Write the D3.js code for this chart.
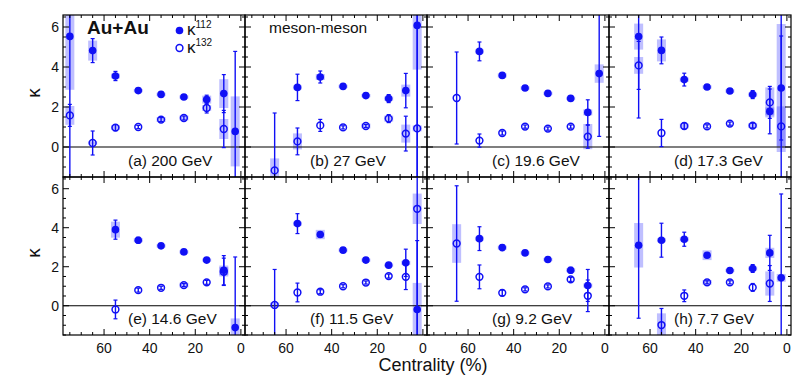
<!DOCTYPE html>
<html>
<head>
<meta charset="utf-8">
<title>kappa vs centrality</title>
<style>
body { margin: 0; background: #fff; }
text { font-family: "Liberation Sans", Arial, sans-serif; fill: #111; }
.frame { fill: none; stroke: #000; stroke-width: 1.2px; }
.tick { stroke: #000; stroke-width: 1px; }
.zero { stroke: #000; stroke-width: 1.2px; }
</style>
</head>
<body>
<svg id="chart" width="793" height="378"></svg>
<script src="https://cdnjs.cloudflare.com/ajax/libs/d3/7.8.5/d3.min.js"></script>
<script>
// centrality bins (%), same for all panels
var centBins = [75, 65, 55, 45, 35, 25, 15, 7.5, 2.5];
var panelLabels = ["(a) 200 GeV", "(b) 27 GeV", "(c) 19.6 GeV", "(d) 17.3 GeV",
                   "(e) 14.6 GeV", "(f) 11.5 GeV", "(g) 9.2 GeV", "(h) 7.7 GeV"];
var yTickLabels = [0, 2, 4, 6];
var xTickLabels = [60, 40, 20, 0];

// kappa112 (filled) : value, stat error, sys error, one row per panel
var k112 = [
  [5.53, 4.82, 3.55, 2.82, 2.63, 2.50, 2.37, 2.67, 0.78],
  [null, null, 2.98, 3.50, 3.03, 2.57, 2.42, 2.82, 6.08],
  [null, null, 4.78, 3.58, 2.95, 2.68, 2.43, 1.73, 3.67],
  [null, 5.52, 4.83, 3.37, 3.00, 2.80, 2.62, 1.78, 2.95],
  [null, null, 3.90, 3.36, 3.07, 2.76, 2.34, 1.82, -1.12],
  [null, null, 4.21, 3.65, 2.85, 2.34, 2.08, 2.20, -0.19],
  [null, null, 3.44, 2.98, 2.71, 2.37, 1.82, 1.04, null],
  [null, 3.10, 3.36, 3.41, 2.59, 1.81, 1.91, 2.71, 1.43]
];
var k112Stat = [
  [8, 0.60, 0.23, 0.10, 0.08, 0.08, 0.22, 0.95, 4.0],
  [null, null, 0.66, 0.30, 0.10, 0.10, 0.20, 0.86, 8],
  [null, null, 0.47, 0.12, 0.08, 0.08, 0.10, 0.63, 3.14],
  [null, 4.07, 0.67, 0.32, 0.10, 0.10, 0.20, 1.12, 2.6],
  [null, null, 0.49, 0.15, 0.08, 0.08, 0.10, 0.75, 3.62],
  [null, null, 0.51, 0.12, 0.08, 0.08, 0.12, 0.70, 3.53],
  [null, null, 0.61, 0.15, 0.08, 0.08, 0.15, 0.82, null],
  [null, 3.74, 0.87, 0.36, 0.10, 0.10, 0.20, 0.90, 4.3]
];
var k112Sys = [
  [2.67, 0.50, 0.12, 0.08, 0.08, 0.08, 0.20, 0.72, 1.75],
  [null, null, 0.10, 0.15, 0.08, 0.08, 0.10, 0.30, 2.21],
  [null, null, 0.10, 0.10, 0.08, 0.08, 0.08, 0.15, 0.46],
  [null, 0.65, 0.55, 0.10, 0.08, 0.08, 0.10, 0.20, 3.2],
  [null, null, 0.41, 0.10, 0.08, 0.08, 0.08, 0.24, 0.47],
  [null, null, 0.10, 0.24, 0.08, 0.08, 0.08, 0.10, 1.36],
  [null, null, 0.10, 0.10, 0.08, 0.08, 0.10, 0.10, null],
  [null, 1.14, 0.10, 0.10, 0.25, 0.08, 0.10, 0.26, 0.20]
];

// kappa132 (open)
var k132 = [
  [1.58, 0.20, 0.97, 1.00, 1.37, 1.45, 1.95, 0.90, null],
  [null, -1.17, 0.28, 1.08, 0.98, 1.05, 1.42, 0.67, 0.93],
  [null, 2.45, 0.32, 0.70, 1.02, 0.92, 1.02, 0.52, null],
  [null, 4.08, 0.70, 1.05, 1.03, 1.17, 1.07, 2.23, 1.03],
  [null, null, -0.19, 0.80, 0.92, 1.06, 1.20, 1.74, null],
  [null, 0.04, 0.68, 0.72, 1.00, 1.19, 1.52, 1.48, 4.97],
  [null, 3.19, 1.48, 0.66, 0.84, 0.99, 1.35, 0.51, null],
  [null, null, -0.99, 0.51, 1.20, 1.20, 0.94, 1.14, null]
];
var k132Stat = [
  [0.55, 0.60, 0.15, 0.08, 0.10, 0.10, 0.25, 0.93, null],
  [null, 2.87, 0.67, 0.30, 0.08, 0.08, 0.20, 0.87, 8],
  [null, 2.30, 0.33, 0.10, 0.08, 0.08, 0.08, 0.58, null],
  [null, 1.20, 0.68, 0.15, 0.08, 0.08, 0.12, 0.80, 6],
  [null, null, 0.48, 0.10, 0.08, 0.08, 0.10, 0.70, null],
  [null, 1.82, 0.48, 0.10, 0.08, 0.08, 0.10, 0.65, 8],
  [null, 2.96, 0.61, 0.15, 0.08, 0.08, 0.10, 0.81, null],
  [null, null, 0.85, 0.30, 0.08, 0.08, 0.20, 0.92, null]
];
var k132Sys = [
  [0.47, 0.08, 0.12, 0, 0.12, 0.12, 0.15, 0.50, null],
  [null, 0.60, 0.40, 0, 0, 0.12, 0.15, 0.45, 0.15],
  [null, 0, 0, 0, 0, 0, 0, 0.63, null],
  [null, 0.42, 0, 0.12, 0, 0, 0.12, 0.75, 1.0],
  [null, null, 0, 0, 0, 0.12, 0, 0.24, null],
  [null, 0.12, 0, 0, 0, 0, 0, 0, 0.78],
  [null, 0.99, 0, 0, 0, 0, 0, 0, null],
  [null, null, 0.60, 0, 0.12, 0, 0, 0.62, null]
];

var blue = "#1010f5";
var left = 63, panelW = 182;
var rows = [{top: 15, bottom: 177}, {top: 177, bottom: 335}];

var svg = d3.select("#chart");

var x = d3.scaleLinear().domain([78, -1.8]).range([0, panelW]);

function drawPanel(p) {
  var col = p % 4, row = Math.floor(p / 4);
  var x0 = left + col * panelW;
  var r = rows[row];
  var h = r.bottom - r.top;
  var y = d3.scaleLinear().domain([-1.5, 6.6]).range([h, 0]);

  var g = svg.append("g").attr("transform", "translate(" + x0 + "," + r.top + ")");

  g.append("clipPath").attr("id", "clip" + p)
    .append("rect").attr("width", panelW).attr("height", h);

  var plot = g.append("g").attr("clip-path", "url(#clip" + p + ")");

  var series = [
    {v: k112[p], st: k112Stat[p], sy: k112Sys[p], open: false},
    {v: k132[p], st: k132Stat[p], sy: k132Sys[p], open: true}
  ];

  // systematic boxes first
  series.forEach(function(s) {
    centBins.forEach(function(c, i) {
      if (s.v[i] == null || !s.sy[i]) return;
      plot.append("rect")
        .attr("x", x(c) - 4.5)
        .attr("width", 9)
        .attr("y", y(s.v[i] + s.sy[i]))
        .attr("height", y(s.v[i] - s.sy[i]) - y(s.v[i] + s.sy[i]))
        .attr("fill", "#2a2aff")
        .attr("fill-opacity", 0.3);
    });
  });

  plot.append("line").attr("class", "zero")
    .attr("x1", 0).attr("x2", panelW)
    .attr("y1", y(0)).attr("y2", y(0));

  // stat error bars
  series.forEach(function(s) {
    centBins.forEach(function(c, i) {
      if (s.v[i] == null) return;
      var cx = x(c), hi = y(s.v[i] + s.st[i]), lo = y(s.v[i] - s.st[i]);
      plot.append("line")
        .attr("x1", cx).attr("x2", cx).attr("y1", hi).attr("y2", lo)
        .attr("stroke", blue).attr("stroke-width", 1.4);
      [hi, lo].forEach(function(yy) {
        plot.append("line")
          .attr("x1", cx - 2).attr("x2", cx + 2).attr("y1", yy).attr("y2", yy)
          .attr("stroke", blue).attr("stroke-width", 1.2);
      });
    });
  });

  // markers
  series.forEach(function(s) {
    centBins.forEach(function(c, i) {
      if (s.v[i] == null) return;
      plot.append("circle")
        .attr("cx", x(c)).attr("cy", y(s.v[i]))
        .attr("r", s.open ? 3.4 : 3.8)
        .attr("fill", s.open ? "none" : blue)
        .attr("stroke", blue)
        .attr("stroke-width", s.open ? 1.5 : 0);
    });
  });

  // inward ticks on all four sides
  d3.range(-1.5, 6.6, 0.5).forEach(function(t) {
    var len = (Math.abs(t % 2) < 1e-6) ? 6 : 3;
    g.append("line").attr("class", "tick")
      .attr("x1", 0).attr("x2", len).attr("y1", y(t)).attr("y2", y(t));
    g.append("line").attr("class", "tick")
      .attr("x1", panelW).attr("x2", panelW - len).attr("y1", y(t)).attr("y2", y(t));
  });
  d3.range(0, 78, 5).forEach(function(t) {
    var len = (t % 20 == 0) ? 6 : 3;
    g.append("line").attr("class", "tick")
      .attr("x1", x(t)).attr("x2", x(t)).attr("y1", h).attr("y2", h - len);
    g.append("line").attr("class", "tick")
      .attr("x1", x(t)).attr("x2", x(t)).attr("y1", 0).attr("y2", len);
  });

  g.append("rect").attr("class", "frame").attr("width", panelW).attr("height", h);

  g.append("text")
    .attr("x", 65).attr("y", h - 11)
    .attr("font-size", 15.5)
    .text(panelLabels[p]);

  if (col == 0) {
    yTickLabels.forEach(function(t) {
      g.append("text")
        .attr("x", -4).attr("y", y(t)).attr("dy", "0.36em")
        .attr("text-anchor", "end").attr("font-size", 14)
        .text(t);
    });
    g.append("text")
      .attr("transform", "translate(-30," + (h / 2 - 3) + ") rotate(-90)")
      .attr("text-anchor", "middle").attr("dy", "0.35em")
      .attr("font-size", 19)
      .text("κ");
  }
  if (row == 1) {
    xTickLabels.forEach(function(t) {
      g.append("text")
        .attr("x", x(t)).attr("y", h + 18)
        .attr("text-anchor", "middle").attr("font-size", 14)
        .text(t);
    });
  }
}

for (var p = 0; p < 8; p++) drawPanel(p);

// annotations
svg.append("text").attr("x", 87).attr("y", 34)
  .attr("font-size", 19).attr("font-weight", "bold").text("Au+Au");

svg.append("text").attr("x", 269).attr("y", 33)
  .attr("font-size", 15.5).text("meson-meson");

svg.append("circle").attr("cx", 179.5).attr("cy", 30.5).attr("r", 3.8).attr("fill", blue);
svg.append("circle").attr("cx", 179.5).attr("cy", 48).attr("r", 3.4)
  .attr("fill", "none").attr("stroke", blue).attr("stroke-width", 1.5);

var leg1 = svg.append("text").attr("x", 187).attr("y", 35).attr("font-size", 17);
leg1.append("tspan").text("κ");
leg1.append("tspan").attr("dy", -7).attr("font-size", 10).text("112");
var leg2 = svg.append("text").attr("x", 187).attr("y", 53).attr("font-size", 17);
leg2.append("tspan").text("κ");
leg2.append("tspan").attr("dy", -7).attr("font-size", 10).text("132");

svg.append("text").attr("x", 433).attr("y", 371)
  .attr("text-anchor", "middle").attr("font-size", 18)
  .text("Centrality (%)");
</script>
</body>
</html>
